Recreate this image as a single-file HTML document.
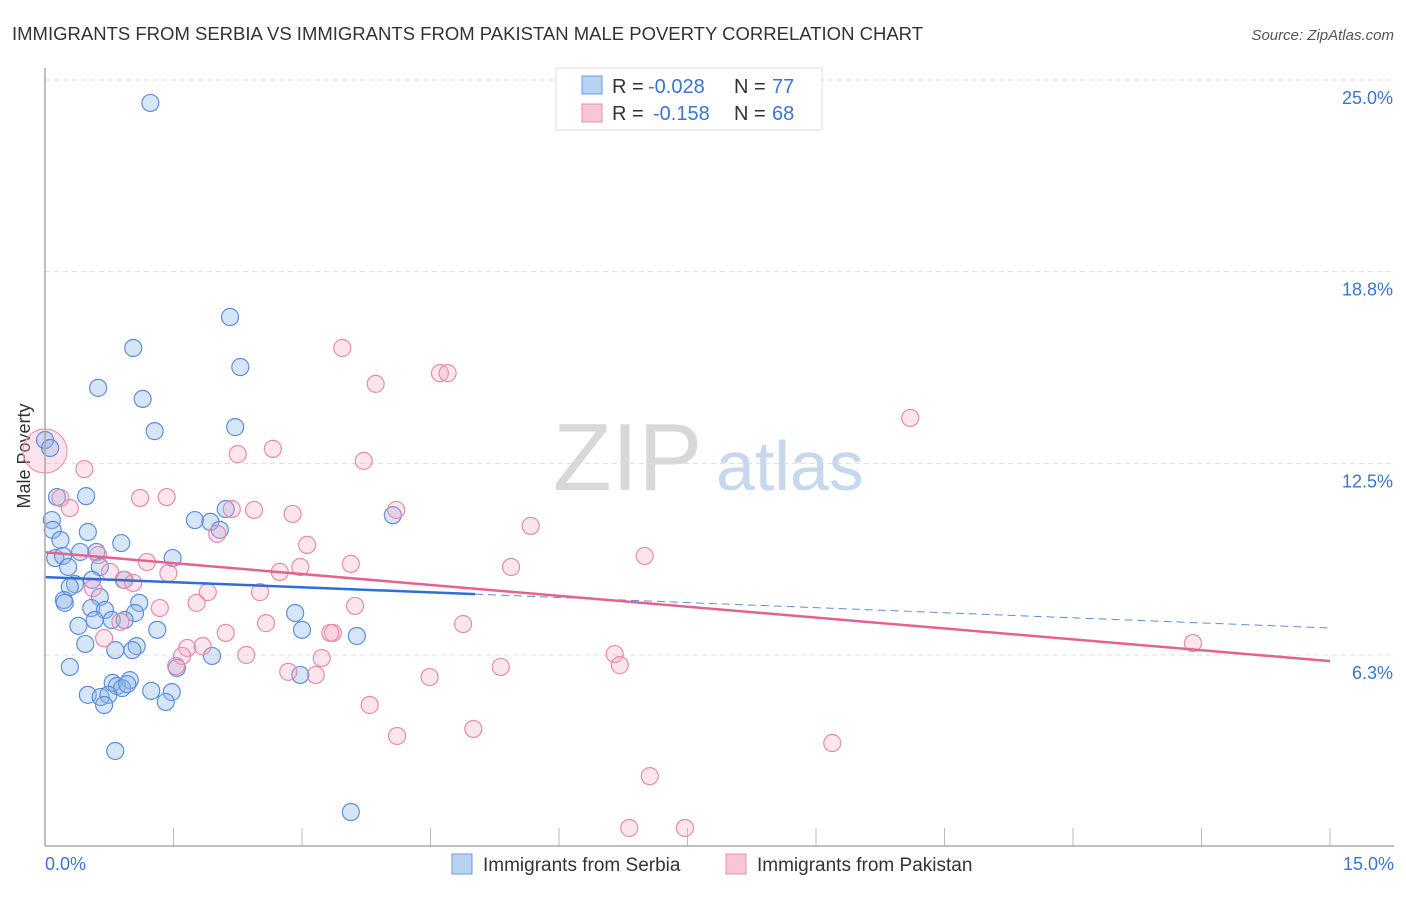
<!DOCTYPE html>
<html><head><meta charset="utf-8"><style>
body{margin:0;background:#fff;font-family:"Liberation Sans",sans-serif;}
svg text{font-family:"Liberation Sans",sans-serif;}
</style></head><body>
<svg id="chart" width="1406" height="892">
<text x="12" y="40" font-size="18.5" fill="#333" textLength="911">IMMIGRANTS FROM SERBIA VS IMMIGRANTS FROM PAKISTAN MALE POVERTY CORRELATION CHART</text>
<text x="1394" y="40" font-size="15" fill="#555" font-style="italic" text-anchor="end">Source: ZipAtlas.com</text>
<text x="30" y="456" font-size="18" fill="#333" text-anchor="middle" transform="rotate(-90 30 456)">Male Poverty</text>
<text x="553" y="490" font-size="96" fill="#d8d8d8" font-family="Liberation Serif">ZIP</text>
<text x="716" y="490" font-size="70" fill="#c6d8ee">atlas</text>
<g id="grid"></g><g id="pts"></g><g id="lines"></g>
<line x1="45" y1="68" x2="45" y2="846" stroke="#aaa" stroke-width="1.5"/>
<line x1="45" y1="846" x2="1394" y2="846" stroke="#aaa" stroke-width="1.5"/>
<text x="45" y="870" font-size="18" fill="#3a75d0">0.0%</text>
<text x="1394" y="870" font-size="18" fill="#3a75d0" text-anchor="end">15.0%</text>
<g>
<rect x="556" y="68" width="266" height="62" fill="#fff" stroke="#ddd"/>
<rect x="582" y="76" width="20" height="18" fill="#b8d2f4" stroke="#6e9be0"/>
<rect x="582" y="104" width="20" height="18" fill="#f9c6d6" stroke="#ea8fae"/>
<text x="612" y="93" font-size="20" fill="#333">R =</text><text x="648" y="93" font-size="20" fill="#3a75d0">-0.028</text>
<text x="734" y="93" font-size="20" fill="#333">N =</text><text x="772" y="93" font-size="20" fill="#3a75d0">77</text>
<text x="612" y="120" font-size="20" fill="#333">R =</text><text x="653" y="120" font-size="20" fill="#3a75d0">-0.158</text>
<text x="734" y="120" font-size="20" fill="#333">N =</text><text x="772" y="120" font-size="20" fill="#3a75d0">68</text>
</g>
<g><rect x="452" y="854" width="20" height="20" fill="#b8d2f4" stroke="#6e9be0"/><text x="483" y="871" font-size="19" fill="#333">Immigrants from Serbia</text></g>
<g><rect x="726" y="854" width="20" height="20" fill="#f9c6d6" stroke="#ea8fae"/><text x="757" y="871" font-size="19" fill="#333">Immigrants from Pakistan</text></g>
</svg>
<script>
const yTicks=[6.25,12.5,18.75,25];
const yTickLabels=["6.3%","12.5%","18.8%","25.0%"];
const serbiaPx=[[150,103],[230,317],[133,348],[240,367],[98,388],[143,399],[155,431],[235,427],[45,440],[50,448],[57,497],[86,496],[226,509],[195,520],[210,522],[220,530],[393,515],[52,520],[53,530],[88,532],[60,540],[121,543],[80,552],[96,552],[55,558],[63,556],[173,558],[68,567],[100,567],[92,580],[124,580],[75,584],[70,587],[100,597],[64,600],[65,603],[139,603],[91,608],[105,610],[135,613],[295,613],[95,620],[112,620],[125,620],[78,626],[157,630],[302,630],[357,636],[85,644],[137,646],[132,650],[115,650],[212,656],[70,667],[177,668],[300,675],[113,683],[130,680],[117,686],[122,688],[127,684],[88,695],[101,697],[108,695],[151,691],[172,692],[104,705],[166,702],[115,751],[351,812]];
const pakistanPx=[[84,469],[60,498],[70,508],[140,498],[232,509],[254,510],[293,514],[396,510],[531,526],[307,545],[217,534],[98,555],[147,562],[645,556],[300,567],[351,564],[511,567],[168,573],[280,572],[110,572],[125,580],[133,583],[93,588],[260,592],[208,592],[197,603],[160,608],[355,606],[120,622],[266,623],[463,624],[226,633],[333,633],[330,633],[104,638],[187,648],[203,646],[182,656],[246,655],[322,658],[615,654],[620,665],[176,666],[288,672],[316,675],[501,667],[430,677],[1193,643],[910,418],[342,348],[376,384],[440,373],[448,373],[364,461],[273,449],[238,454],[370,705],[397,736],[473,729],[832,743],[650,776],[629,828],[685,828],[167,497]];
const serbiaX=serbiaPx.map(p=>+((p[0]-45)/85.667).toFixed(2));
const serbiaY=serbiaPx.map(p=>+(6.25+(655-p[1])/30.67).toFixed(2));
const pakistanX=pakistanPx.map(p=>+((p[0]-45)/85.667).toFixed(2));
const pakistanY=pakistanPx.map(p=>+(6.25+(655-p[1])/30.67).toFixed(2));
const serbiaTrend=[8.79,7.13];
const pakistanTrend=[9.6,6.05];
const xs=v=>45+v*85.667, ys=v=>655-(v-6.25)*30.67;
const NS="http://www.w3.org/2000/svg";
function mk(t,a,parent){const e=document.createElementNS(NS,t);for(const k in a)e.setAttribute(k,a[k]);document.getElementById(parent).appendChild(e);return e;}
yTicks.forEach((t,i)=>{
 const l=mk('line',{x1:45,x2:1394,y1:ys(t),y2:ys(t),stroke:'#ddd','stroke-dasharray':'5,4'},'grid');
 
 
 const tx=mk('text',{x:1393,y:ys(t)+24,'font-size':18,fill:'#3a75d0','text-anchor':'end'},'grid');
 tx.textContent=yTickLabels[i];
 
 
});
for(let i=1;i<=10;i++){const l=mk('line',{x1:xs(i*1.5),x2:xs(i*1.5),y1:828,y2:846,stroke:'#bbb'},'grid');
 
 }
mk('circle',{cx:xs(0),cy:ys(12.9),r:22,fill:'rgba(244,160,188,0.3)',stroke:'#ea8fae'},'pts');
serbiaX.forEach((x,i)=>{const c=mk('circle',{cx:xs(x),cy:ys(serbiaY[i]),r:8.5,fill:'rgba(140,180,236,0.35)',stroke:'#5b8fdc','stroke-width':1.2},'pts');
 
 });
pakistanX.forEach((x,i)=>{const c=mk('circle',{cx:xs(x),cy:ys(pakistanY[i]),r:8.5,fill:'rgba(244,170,196,0.3)',stroke:'#e98aab','stroke-width':1.2},'pts');
 
 });
const sy=x=>serbiaTrend[0]+(serbiaTrend[1]-serbiaTrend[0])*x/15;
let l1=mk('line',{x1:xs(0),y1:ys(sy(0)),x2:xs(5.02),y2:ys(sy(5.02)),stroke:'#2d6fd6','stroke-width':2.5},'lines');


let l2=mk('line',{x1:xs(5.02),y1:ys(sy(5.02)),x2:xs(15),y2:ys(sy(15)),stroke:'#5b8fdc','stroke-width':1,'stroke-dasharray':'8,5'},'lines');


let l3=mk('line',{x1:xs(0),y1:ys(pakistanTrend[0]),x2:xs(15),y2:ys(pakistanTrend[1]),stroke:'#e5628f','stroke-width':2.5},'lines');


</script>
</body></html>
